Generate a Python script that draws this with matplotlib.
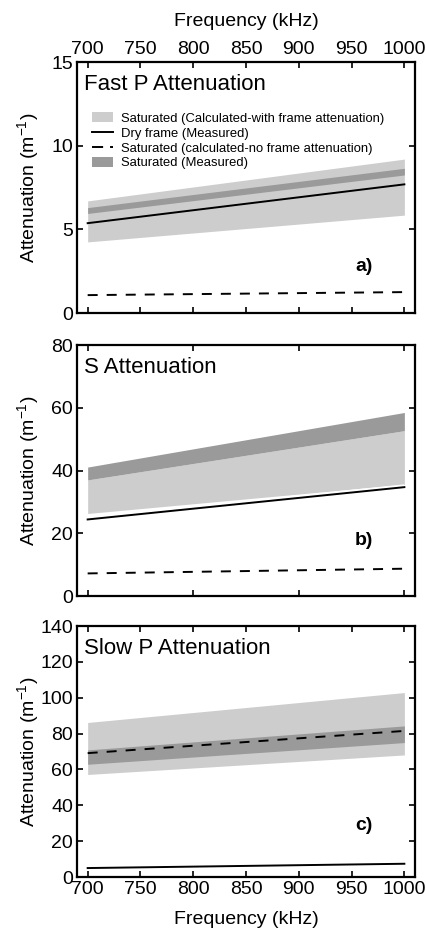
import matplotlib
matplotlib.use("Agg")
import matplotlib.pyplot as plt
from matplotlib.patches import Patch
from matplotlib.lines import Line2D

plt.rcParams["font.family"] = ["Liberation Sans", "DejaVu Sans"]
plt.rcParams["lines.scale_dashes"] = False

# frequency (kHz) at the ends of every curve
freq = [700, 1000]

# a) fast P
fastp_calc_lo = [4.25, 5.85]
fastp_calc_hi = [6.7, 9.2]
fastp_meas_lo = [5.95, 8.25]
fastp_meas_hi = [6.3, 8.65]
fastp_dry = [5.37, 7.69]
fastp_noframe = [1.07, 1.25]

# b) S
s_calc_lo = [26.3, 35.6]
s_calc_hi = [37.0, 52.7]
s_meas_lo = [37.0, 52.7]
s_meas_hi = [41.1, 58.5]
s_dry = [24.4, 34.7]
s_noframe = [7.2, 8.7]

# c) slow P
slowp_calc_lo = [57.2, 68.1]
slowp_calc_hi = [86.2, 102.9]
slowp_meas_lo = [62.9, 75.0]
slowp_meas_hi = [70.9, 84.3]
slowp_dry = [5.0, 7.4]
slowp_noframe = [69.1, 81.5]

panels = [
    ("Fast P Attenuation", "a)", 15, [0, 5, 10, 15],
     fastp_calc_lo, fastp_calc_hi, fastp_meas_lo, fastp_meas_hi, fastp_dry, fastp_noframe),
    ("S Attenuation", "b)", 80, [0, 20, 40, 60, 80],
     s_calc_lo, s_calc_hi, s_meas_lo, s_meas_hi, s_dry, s_noframe),
    ("Slow P Attenuation", "c)", 140, [0, 20, 40, 60, 80, 100, 120, 140],
     slowp_calc_lo, slowp_calc_hi, slowp_meas_lo, slowp_meas_hi, slowp_dry, slowp_noframe),
]

light = "#cdcdcd"
dark = "#9a9a9a"
dash = (7.2, 6.5)
lw = 1.4
fs = 14

fig = plt.figure(figsize=(4.26, 9.33), dpi=100)
bottoms = [0.6645, 0.3612, 0.0600]
tag_y = [0.187, 0.223, 0.207]

axes = []
for i, (title, tag, ymax, yt, clo, chi, mlo, mhi, dry, nof) in enumerate(panels):
    ax = fig.add_axes([0.181, bottoms[i], 0.793, 0.269])
    axes.append(ax)
    ax.fill_between(freq, clo, chi, color=light, lw=0)
    ax.fill_between(freq, mlo, mhi, color=dark, lw=0)
    if i == 1:
        # white rim under the dry-frame line
        ax.plot(freq, dry, color="white", lw=4.0, solid_capstyle="butt")
    ax.plot(freq, dry, color="black", lw=lw)
    ax.plot(freq, nof, color="black", lw=lw, dashes=dash)

    ax.set_xlim(690, 1010)
    ax.set_ylim(0, ymax)
    ax.set_yticks(yt)
    step = 100 if i == 1 else 50
    ax.set_xticks(list(range(700, 1001, step)))
    ax.tick_params(direction="in", length=4, width=1.2, labelsize=fs, pad=3,
                   top=True, right=True, labelbottom=(i == 2), labeltop=(i == 0))
    for sp in ax.spines.values():
        sp.set_linewidth(1.6)

    ax.set_ylabel(r"Attenuation (m$^{\mathregular{-1}}$)", fontsize=fs)
    ax.yaxis.set_label_coords(-0.104, 0.5)
    ax.text(0.02, 0.952, title, transform=ax.transAxes, fontsize=16,
            ha="left", va="top")
    ax.text(0.876, tag_y[i], tag, transform=ax.transAxes, fontsize=fs,
            fontweight="bold", ha="right", va="center")

axes[0].set_xlabel("Frequency (kHz)", fontsize=fs, labelpad=11)
axes[0].xaxis.set_label_position("top")
axes[2].set_xlabel("Frequency (kHz)", fontsize=fs, labelpad=9)

handles = [
    Patch(facecolor=light, edgecolor="none"),
    Line2D([], [], color="black", lw=lw),
    Line2D([], [], color="black", lw=lw, dashes=(8, 5)),
    Patch(facecolor=dark, edgecolor="none"),
]
labels = [
    "Saturated (Calculated-with frame attenuation)",
    "Dry frame (Measured)",
    "Saturated (calculated-no frame attenuation)",
    "Saturated (Measured)",
]
axes[0].legend(handles, labels, loc="upper left", bbox_to_anchor=(0.044, 0.800),
               frameon=False, fontsize=9.35, handlelength=1.6, handleheight=0.77,
               handletextpad=0.62, labelspacing=0.2, borderaxespad=0, borderpad=0)

fig.savefig("out.png", dpi=100)
